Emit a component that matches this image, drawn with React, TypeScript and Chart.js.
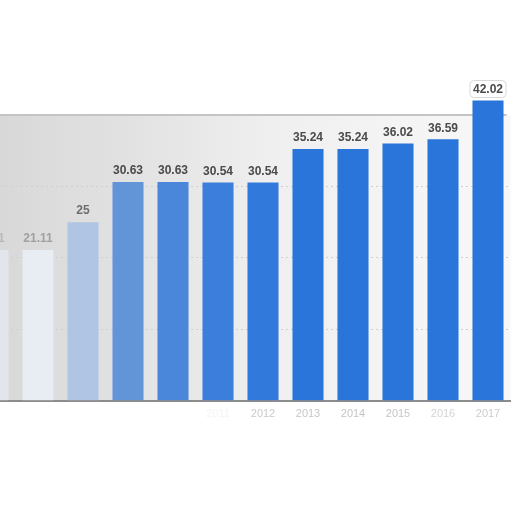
import { useEffect, useRef } from "react"
import { Chart, registerables } from "chart.js"

Chart.register(...registerables)

// years shown on the x axis (the first one is cut off at the left edge)
const years = ["2006", "2007", "2008", "2009", "2010", "2011", "2012", "2013", "2014", "2015", "2016", "2017"]
const values = [21.1, 21.11, 25, 30.63, 30.63, 30.54, 30.54, 35.24, 35.24, 36.02, 36.59, 42.02]
const yTicks = [0, 10, 20, 30, 40, 50]

// the left part of the picture is washed out, so the bars fade in
const barColors = ["#e2e6ec", "#e8ecf3", "#b0c5e3", "#6295d8", "#4a86da", "#3c7edb", "#317adb", "#2a75d9", "#2a75d9", "#2a75d9", "#2a75d9", "#2a75d9"]
const labelColors = ["#b8b8b8", "#a0a0a0", "#6e6e6e", "#4a4a4a", "#4a4a4a", "#4a4a4a", "#4a4a4a", "#4a4a4a", "#4a4a4a", "#4a4a4a", "#4a4a4a", "#4a4a4a"]
const tickColors = ["#ffffff", "#ffffff", "#ffffff", "#ffffff", "#ffffff", "#f4f4f4", "#cacaca", "#c6c6c6", "#c4c4c4", "#c6c6c6", "#d4d4d4", "#cccccc"]

const backdrop = {
  id: "backdrop",
  beforeDraw(chart: Chart) {
    const { ctx, chartArea } = chart
    const y = chart.scales.y
    const top = y.getPixelForValue(40)
    const g = ctx.createLinearGradient(chartArea.left, 0, chartArea.right, 0)
    g.addColorStop(0, "#d6d6d6")
    g.addColorStop(0.3, "#e2e2e2")
    g.addColorStop(0.55, "#efefef")
    g.addColorStop(1, "#f8f8f8")
    ctx.save()
    ctx.fillStyle = g
    ctx.fillRect(chartArea.left, top, chartArea.right - chartArea.left, chartArea.bottom - top)
    ctx.restore()
  },
  beforeDatasetsDraw(chart: Chart) {
    const { ctx, chartArea } = chart
    const top = chart.scales.y.getPixelForValue(40)
    ctx.save()
    ctx.strokeStyle = "#c4c4c4"
    ctx.lineWidth = 2
    ctx.beginPath()
    ctx.moveTo(chartArea.left, top)
    ctx.lineTo(chartArea.right - 4, top)
    ctx.stroke()
    ctx.restore()
  },
}

const valueLabels = {
  id: "valueLabels",
  afterDatasetsDraw(chart: Chart) {
    const { ctx } = chart
    const meta = chart.getDatasetMeta(0)
    ctx.save()
    ctx.font = "bold 12px 'Liberation Sans', Arial, sans-serif"
    ctx.textAlign = "center"
    ctx.textBaseline = "bottom"
    meta.data.forEach((bar: any, i: number) => {
      const text = values[i] === 21.1 ? "21.1" : String(values[i])
      const x = bar.x
      const y = bar.y - 5
      if (i === values.length - 1) {
        const w = ctx.measureText(text).width + 6
        ctx.fillStyle = "#ffffff"
        ctx.strokeStyle = "#d8d8d8"
        ctx.lineWidth = 1
        ctx.beginPath()
        ctx.roundRect(x - w / 2, y - 15, w, 17, 4)
        ctx.fill()
        ctx.stroke()
      }
      ctx.fillStyle = labelColors[i]
      ctx.fillText(text, x, y)
    })
    ctx.restore()
  },
}

export default function App() {
  const canvasRef = useRef<HTMLCanvasElement | null>(null)
  const chartRef = useRef<Chart | null>(null)

  useEffect(() => {
    if (!canvasRef.current) return
    if (chartRef.current) chartRef.current.destroy()

    chartRef.current = new Chart(canvasRef.current, {
      type: "bar",
      data: {
        labels: years,
        datasets: [
          {
            data: values,
            backgroundColor: barColors,
            barPercentage: 0.69,
            categoryPercentage: 1,
          },
        ],
      },
      options: {
        animation: false,
        responsive: true,
        maintainAspectRatio: false,
        layout: { padding: { left: 0.5, right: 1.5, top: 43.5, bottom: 84 } },
        plugins: {
          legend: { display: false },
          tooltip: { enabled: false },
          title: { display: false },
        },
        scales: {
          x: {
            grid: { display: false, drawTicks: false },
            border: { display: true, color: "#8c8c8c", width: 2 },
            ticks: {
              padding: 7,
              color: (c: any) => tickColors[c.index],
              font: { size: 11, family: "'Liberation Sans', Arial, sans-serif" },
            },
          },
          y: {
            min: 0,
            max: 50,
            afterBuildTicks: (axis: any) => {
              axis.ticks = yTicks.map((v) => ({ value: v }))
            },
            ticks: { display: false },
            border: { display: false, dash: [2, 3] },
            grid: {
              drawTicks: false,
              lineWidth: 1,
              color: (c: any) => (c.tick && c.tick.value > 0 && c.tick.value < 40 ? "#cfcfcf" : "rgba(0,0,0,0)"),
            },
          },
        },
      },
      plugins: [backdrop, valueLabels],
    })

    return () => {
      if (chartRef.current) {
        chartRef.current.destroy()
        chartRef.current = null
      }
    }
  }, [])

  return (
    <div style={{ position: "absolute", left: -30, top: 0, width: 542, height: 512 }}>
      <canvas ref={canvasRef}></canvas>
    </div>
  )
}
